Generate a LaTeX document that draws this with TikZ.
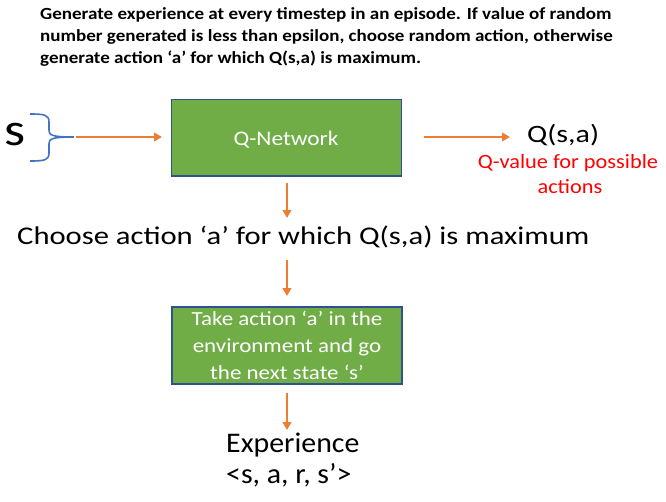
\documentclass[tikz,border=0pt]{standalone}
\usepackage{fontspec}
\setmainfont{Carlito}
\newfontfamily\ftop[FakeStretch=1.12]{Carlito}
\newfontfamily\fchoose[FakeStretch=1.2]{Carlito}
\newfontfamily\fqnet[FakeStretch=1.13]{Carlito}
\newfontfamily\fred[FakeStretch=1.1]{Carlito}
\newfontfamily\ftake[FakeStretch=1.15]{Carlito}
\newfontfamily\fexp[FakeStretch=1.05]{Carlito}
\newfontfamily\fs[FakeStretch=1.17]{Carlito}
\usetikzlibrary{arrows.meta}
\definecolor{boxgreen}{HTML}{70AD47}
\definecolor{boxedge}{HTML}{2F528F}
\definecolor{arrorange}{HTML}{ED7D31}
\definecolor{bracecol}{HTML}{4472C4}
\tikzset{
  flowarrow/.style={draw=arrorange, line width=2.2pt, -{Triangle[length=8pt,width=8.5pt]}},
  greenbox/.style={draw=boxedge, line width=1.2pt, fill=boxgreen},
  lbl/.style={inner sep=0pt, anchor=base},
  lblw/.style={inner sep=0pt, anchor=base west},
  toptext/.style={lblw, font=\ftop\bfseries\fontsize{17}{22}\selectfont},
  takelbl/.style={lbl, text=white, font=\ftake\fontsize{20}{27}\selectfont},
  redlbl/.style={lbl, text=red, font=\fred\fontsize{20.3}{25}\selectfont},
  explbl/.style={lblw, font=\fexp\fontsize{28.4}{31}\selectfont}
}
\begin{document}
\begin{tikzpicture}[x=1pt,y=-1pt]
\useasboundingbox (0,0) rectangle (666,501);
% top paragraph
\node[toptext] (top1) at (40,19) {Generate experience at every timestep in an episode. If value of random};
\node[toptext] (top2) at (40,41) {number generated is less than epsilon, choose random action, otherwise};
\node[toptext] (top3) at (40,63) {generate action ‘a’ for which Q(s,a) is maximum.};
% input s and brace
\node[lbl, font=\fs\fontsize{46}{50}\selectfont] (s) at (15,145) {s};
\coordinate (bracetop) at (30,114);
\coordinate (bracebot) at (30,161);
\coordinate (bracetip) at (74,137);
\draw[bracecol, line width=1.6pt]
  (bracetop) .. controls (45,114) and (49,115) .. (49,122) -- (49,130)
  .. controls (49,135) and (51,137) .. (bracetip)
  (bracebot) .. controls (45,161) and (49,160) .. (49,153) -- (49,144)
  .. controls (49,139) and (51,137) .. (bracetip);
% Q-network
\draw[greenbox] (171.5,99.5) rectangle (401.5,176) node[pos=0.5] (qnet) {};
\node[lbl, text=white, font=\fqnet\fontsize{20.7}{25}\selectfont] (qnettext) at (286,145) {Q-Network};
\coordinate (a1s) at (76,137);
\coordinate (a1e) at (162,137);
\draw[flowarrow] (a1s) -- (a1e);
\coordinate (a2s) at (424,137);
\coordinate (a2e) at (510,137);
\draw[flowarrow] (a2s) -- (a2e);
\node[lblw, font=\fchoose\fontsize{25}{30}\selectfont] (qsa) at (527,142) {Q(s,a)};
\node[redlbl] (qval1) at (568,168) {Q-value for possible};
\node[redlbl] (qval2) at (570,193) {actions};
% choose
\coordinate (a3s) at (287,183);
\coordinate (a3e) at (287,218);
\draw[flowarrow] (a3s) -- (a3e);
\node[lblw, font=\fchoose\fontsize{25.5}{30}\selectfont] (choose) at (17,244) {Choose action ‘a’ for which Q(s,a) is maximum};
\coordinate (a4s) at (287,259.5);
\coordinate (a4e) at (287,296);
\draw[flowarrow] (a4s) -- (a4e);
% take action box
\draw[greenbox] (172,307) rectangle (402,384) node[pos=0.5] (take) {};
\node[takelbl] (take1) at (287,325) {Take action ‘a’ in the};
\node[takelbl] (take2) at (287,352) {environment and go};
\node[takelbl] (take3) at (287,379) {the next state ‘s’};
\coordinate (a5s) at (287,393);
\coordinate (a5e) at (287,430);
\draw[flowarrow] (a5s) -- (a5e);
% experience
\node[explbl] (exp1) at (226,452) {Experience};
\node[explbl] (exp2) at (226,483) {<s, a, r, s’>};
\end{tikzpicture}
\end{document}
